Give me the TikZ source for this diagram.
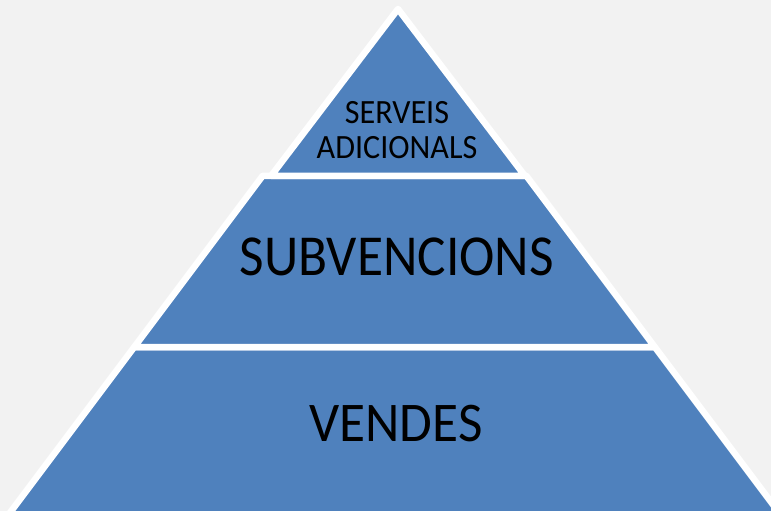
\documentclass[tikz,border=0pt]{standalone}
\usepackage{fontspec}
\setmainfont{Carlito}
\definecolor{bgc}{HTML}{F2F2F2}
\definecolor{pyr}{HTML}{4F81BD}
\tikzset{
  seg/.style={fill=pyr, draw=white, line width=6.5pt, line join=round},
  lbl/.style={inner sep=0pt, anchor=base, text=black}
}
\begin{document}
\begin{tikzpicture}[x=1pt,y=-1pt]
\useasboundingbox (0,0) rectangle (771,511);
\fill[bgc] (0,0) rectangle (771,511);
\clip (0,0) rectangle (771,511);
% bottom segment
\draw[seg] (394.5-260.25,347) -- (394.5+260.25,347) -- (394.5+420,560) -- (394.5-420,560) -- cycle;
% middle segment
\draw[seg] (394.5-131.8,175.75) -- (394.5+131.8,175.75) -- (394.5+260.25,347) -- (394.5-260.25,347) -- cycle;
% top segment
\draw[seg] (398,9) -- (398+126.8,175.75) -- (398-126.8,175.75) -- cycle;
\node[lbl, font=\fontsize{34}{35}\selectfont] (s1) at (397,123.3) {\scalebox{0.945}[1]{SERVEIS}};
\node[lbl, font=\fontsize{34}{35}\selectfont] (s2) at (397,158.3) {\scalebox{0.945}[1]{ADICIONALS}};
\node[lbl, font=\fontsize{58}{60}\selectfont] (sub) at (396.7,275) {\scalebox{0.92}[1]{SUBVENCIONS}};
\node[lbl, font=\fontsize{56}{60}\selectfont] (ven) at (396,441.7) {\scalebox{0.95}[1]{VENDES}};
\end{tikzpicture}
\end{document}
